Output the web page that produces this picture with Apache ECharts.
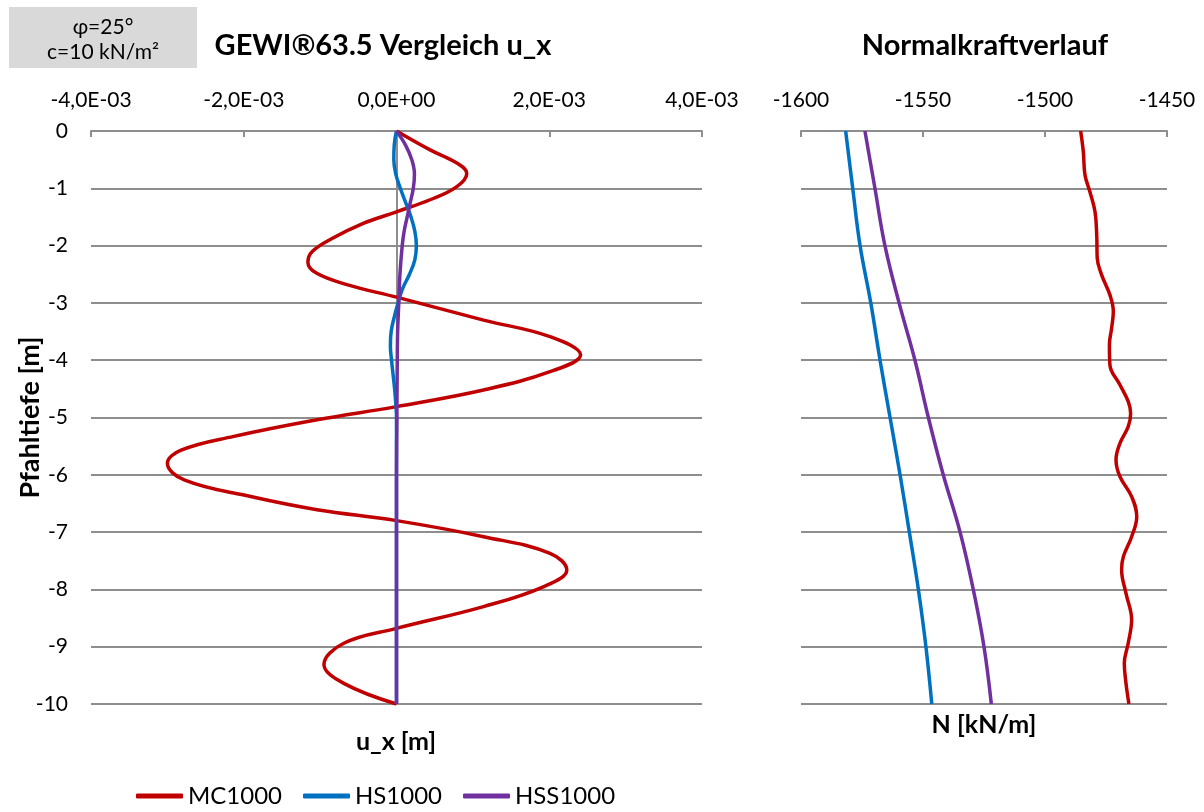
<!DOCTYPE html>
<html>
<head>
<meta charset="utf-8">
<script src="https://cdn.jsdelivr.net/npm/echarts@6/dist/echarts.min.js"></script>
<style>
  html, body { margin: 0; padding: 0; background: #fff; }
  #chart { width: 1204px; height: 812px; }
</style>
</head>
<body>
<div id="chart"></div>
<script>
// ---- Horizontal displacement u_x along the pile (depth in m, u_x in m) ----
const mcDepth = [0, -0.33, -0.56, -0.74, -0.97, -1.20, -1.41, -1.62, -1.88, -2.10, -2.29, -2.48, -2.68, -2.90,
  -3.30, -3.59, -3.91, -4.20, -4.52, -4.81, -5.04, -5.33, -5.57, -5.80, -6.09, -6.38, -6.61, -6.80,
  -7.08, -7.37, -7.66, -7.95, -8.30, -8.68, -8.94, -9.31, -9.64, -10];
const mcUx = [0, 0.44e-3, 0.79e-3, 0.92e-3, 0.79e-3, 0.44e-3, 0, -0.45e-3, -0.85e-3, -1.10e-3, -1.16e-3, -1.05e-3, -0.65e-3, 0,
  1.14e-3, 2.01e-3, 2.41e-3, 2.01e-3, 1.14e-3, 0, -1.04e-3, -2.13e-3, -2.82e-3, -3.00e-3, -2.78e-3, -1.91e-3, -1.04e-3, 0,
  1.14e-3, 2.01e-3, 2.23e-3, 1.93e-3, 1.14e-3, 0, -0.69e-3, -0.95e-3, -0.69e-3, 0];

const hsDepth = [0, -0.25, -0.5, -0.75, -1.0, -1.25, -1.5, -1.75, -2.0, -2.25, -2.5, -2.75, -3.0, -3.25, -3.5, -3.75,
  -4.0, -4.25, -4.5, -4.75, -5, -6, -7, -8, -9, -10];
const hsUx = [0, -0.03e-3, -0.035e-3, -0.01e-3, 0.05e-3, 0.12e-3, 0.19e-3, 0.24e-3, 0.26e-3, 0.24e-3, 0.17e-3, 0.08e-3,
  0.02e-3, -0.03e-3, -0.07e-3, -0.08e-3, -0.065e-3, -0.045e-3, -0.025e-3, -0.01e-3, 0, 0, 0, 0, 0, 0];

const hssDepth = [0, -0.25, -0.5, -0.75, -1.0, -1.25, -1.5, -1.75, -2.0, -2.5, -3.0, -3.5, -4.0, -5, -6, -7, -8, -9, -10];
const hssUx = [0, 0.12e-3, 0.20e-3, 0.235e-3, 0.22e-3, 0.18e-3, 0.14e-3, 0.10e-3, 0.075e-3, 0.045e-3, 0.03e-3,
  0.015e-3, 0.01e-3, 0.005e-3, 0, 0, 0, 0, 0];

// ---- Normal force N along the pile (kN/m) ----
const mcNDepth = [0, -0.36, -0.77, -1.06, -1.41, -1.82, -2.22, -2.51, -2.86, -3.15, -3.44, -3.73, -4.08, -4.43, -4.72,
  -4.93, -5.16, -5.45, -5.74, -6.03, -6.38, -6.73, -7.08, -7.43, -7.66, -8.07, -8.53, -8.94, -9.29, -9.64, -10];
const mcN = [-1485.4, -1484.3, -1483.6, -1481.6, -1479.5, -1478.8, -1478.6, -1476.8, -1473.4, -1472.0, -1472.7, -1473.6,
  -1473.4, -1469.3, -1465.9, -1464.9, -1465.9, -1469.3, -1470.9, -1469.3, -1464.5, -1462.4, -1464.5, -1467.9,
  -1468.6, -1466.8, -1464.5, -1465.9, -1467.5, -1466.8, -1465.6];

const nDepth = [0, -1, -2, -3, -4, -5, -6, -7, -8, -9, -10];
const hsN = [-1581.7, -1578.8, -1575.8, -1571.4, -1567.6, -1563.5, -1559.4, -1555.6, -1551.9, -1548.8, -1546.4];
const hssN = [-1573.8, -1569.7, -1565.6, -1559.8, -1553.3, -1547.8, -1541.7, -1534.8, -1529.4, -1525.0, -1522.0];

// ---- Axis ranges ----
const uxTicks = { min: -0.004, max: 0.004, step: 0.002 };
const nTicks = { min: -1600, max: -1450, step: 50 };
const depthTicks = { min: -10, max: 0, step: 1 };

const seriesNames = ['MC1000', 'HS1000', 'HSS1000'];
const colors = { MC1000: '#C00000', HS1000: '#0070C0', HSS1000: '#7030A0' };

const FONT = 'Lato, "Open Sans", sans-serif';
const GRID_GRAY = '#8e8e8e';

function pairs(xs, ys) { return xs.map((x, i) => [x, ys[i]]); }

// Excel-like scientific label, e.g. -4,0E-03
function sciLabel(v) {
  if (Math.abs(v) < 1e-12) return '0,0E+00';
  const e = Math.floor(Math.log10(Math.abs(v)) + 1e-9);
  const m = v / Math.pow(10, e);
  return m.toFixed(1).replace('.', ',') + 'E' + (e < 0 ? '-' : '+') + String(Math.abs(e)).padStart(2, '0');
}

const labelStyle = { fontFamily: FONT, fontSize: 21, color: '#000' };
const boldStyle = size => ({ fontFamily: FONT, fontSize: size, fontWeight: 'bold', color: '#000' });

function xAxisCfg(gridIndex, t, formatter) {
  return {
    gridIndex, type: 'value', position: 'top', min: t.min, max: t.max, interval: t.step,
    axisLine: { show: true, onZero: false, lineStyle: { color: GRID_GRAY, width: 2 } },
    axisTick: { show: true, inside: true, length: 6, lineStyle: { color: GRID_GRAY, width: 2 } },
    axisLabel: Object.assign({ margin: 20, formatter }, labelStyle),
    splitLine: { show: false }
  };
}

function lineSeries(name, xIdx, data, extra) {
  return Object.assign({
    name, type: 'line', xAxisIndex: xIdx, yAxisIndex: xIdx, data,
    smooth: 0.4, symbol: 'none', showSymbol: false,
    lineStyle: { color: colors[name], width: 3.5 },
    itemStyle: { color: colors[name] }
  }, extra || {});
}

const chart = echarts.init(document.getElementById('chart'));
chart.setOption({
  animation: false,
  backgroundColor: '#fff',
  textStyle: { fontFamily: FONT },
  grid: [
    { left: 91, top: 131, width: 611, height: 573, containLabel: false, outerBoundsMode: 'none' },
    { left: 801, top: 131, width: 366, height: 573, containLabel: false, outerBoundsMode: 'none' }
  ],
  xAxis: [
    xAxisCfg(0, uxTicks, sciLabel),
    xAxisCfg(1, nTicks, v => String(v))
  ],
  yAxis: [
    {
      gridIndex: 0, type: 'value', min: depthTicks.min, max: depthTicks.max, interval: depthTicks.step,
      axisLine: { show: false }, axisTick: { show: false },
      axisLabel: Object.assign({ margin: 23 }, labelStyle),
      splitLine: { show: true, lineStyle: { color: GRID_GRAY, width: 2 } },
      name: 'Pfahltiefe [m]', nameLocation: 'middle', nameRotate: 90, nameGap: 47, nameMoveOverlap: false,
      nameTextStyle: boldStyle(27)
    },
    {
      gridIndex: 1, type: 'value', min: depthTicks.min, max: depthTicks.max, interval: depthTicks.step,
      axisLine: { show: false }, axisTick: { show: false }, axisLabel: { show: false },
      splitLine: { show: true, lineStyle: { color: GRID_GRAY, width: 2 } }
    }
  ],
  title: [
    { text: 'GEWI®63.5 Vergleich u_x', left: 383, top: 31, textAlign: 'center', padding: 0, textStyle: boldStyle(29) },
    { text: 'Normalkraftverlauf', left: 985, top: 31, textAlign: 'center', padding: 0, textStyle: boldStyle(29) },
    { text: 'u_x [m]', left: 396, top: 729, textAlign: 'center', padding: 0, textStyle: boldStyle(25) },
    { text: 'N [kN/m]', left: 984, top: 712, textAlign: 'center', padding: 0, textStyle: boldStyle(25) }
  ],
  graphic: [
    { type: 'rect', left: 9, top: 7, shape: { width: 188, height: 61 }, style: { fill: '#d9d9d9' }, z: 0 },
    { type: 'text', x: 103, y: 27, style: { text: 'φ=25°', align: 'center', verticalAlign: 'middle',
      font: '21px ' + FONT, fill: '#000' }, z: 1 },
    { type: 'text', x: 103, y: 52, style: { text: 'c=10 kN/m²', align: 'center', verticalAlign: 'middle',
      font: '21px ' + FONT, fill: '#000' }, z: 1 }
  ],
  legend: {
    data: seriesNames, left: 136, top: 784, padding: 0, icon: 'roundRect', itemWidth: 47, itemHeight: 5, itemGap: 21,
    textStyle: { fontFamily: FONT, fontSize: 24, color: '#000' }
  },
  series: [
    lineSeries('MC1000', 0, pairs(mcUx, mcDepth), {
      markLine: {
        silent: true, symbol: 'none', z: 1, label: { show: false },
        lineStyle: { color: GRID_GRAY, width: 2, type: 'solid' },
        data: [{ xAxis: 0 }]
      }
    }),
    lineSeries('HS1000', 0, pairs(hsUx, hsDepth)),
    lineSeries('HSS1000', 0, pairs(hssUx, hssDepth)),
    lineSeries('MC1000', 1, pairs(mcN, mcNDepth)),
    lineSeries('HS1000', 1, pairs(hsN, nDepth)),
    lineSeries('HSS1000', 1, pairs(hssN, nDepth))
  ]
});
</script>
</body>
</html>
